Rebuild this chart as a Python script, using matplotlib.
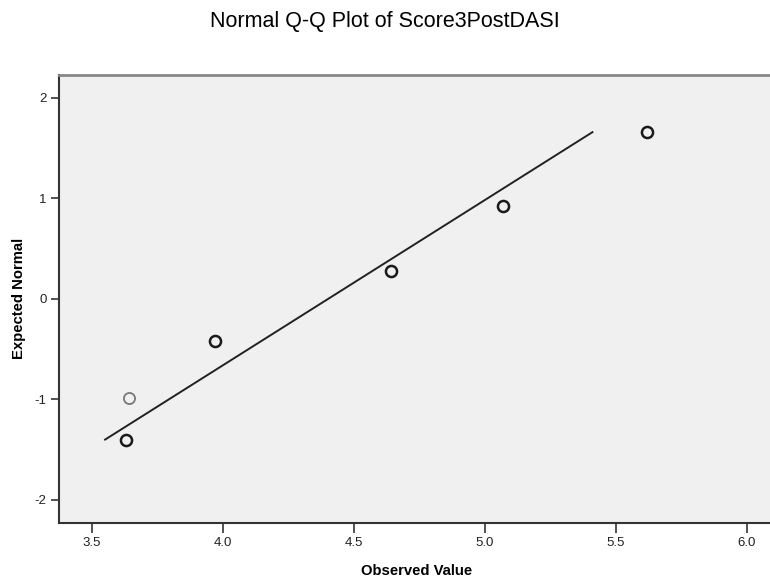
import matplotlib
matplotlib.use('Agg')
import matplotlib.pyplot as plt

# Observed scores and their expected normal quantiles
observed = [3.63, 3.64, 3.97, 4.64, 5.07, 5.62]
expected = [-1.40, -0.99, -0.42, 0.28, 0.92, 1.66]
# number of cases sharing each point (overlapping circles look darker)
cases = [2, 1, 2, 2, 2, 2]

# reference line endpoints (observed, expected)
line_x = [3.55, 5.41]
line_y = [-1.40, 1.66]

xticks = [3.5, 4.0, 4.5, 5.0, 5.5, 6.0]
yticks = [-2, -1, 0, 1, 2]

plt.rcParams['font.family'] = ['Liberation Sans', 'DejaVu Sans']
plt.rcParams['axes.unicode_minus'] = False

fig = plt.figure(figsize=(7.7, 5.85), dpi=100)
ax = fig.add_axes([0.0766, 0.106, 0.93, 0.766])
ax.set_facecolor('#f0f0f0')

ax.plot(line_x, line_y, color='#222222', lw=1.4, zorder=2)

for x, y, n in zip(observed, expected, cases):
    edge = '#1a1a1a' if n > 1 else '#777777'
    ax.plot(x, y, 'o', ms=8, mfc='none', mec=edge, mew=1.8 if n > 1 else 1.3, zorder=3)

ax.set_xlim(3.374, 6.107)
ax.set_ylim(-2.23, 2.23)
ax.set_xticks(xticks)
ax.set_xticklabels([f'{t:.1f}' for t in xticks])
ax.set_yticks(yticks)

for side in ['left', 'bottom']:
    ax.spines[side].set_color('#333333')
    ax.spines[side].set_linewidth(1.5)
ax.spines['top'].set_color('#888888')
ax.spines['top'].set_linewidth(2)
ax.spines['right'].set_visible(False)

ax.tick_params(width=1.2, color='#333333', labelcolor='#222222', labelsize=9.5, pad=3)
ax.tick_params(axis='x', length=7)
ax.tick_params(axis='y', length=6)

ax.set_xlabel('Observed Value', fontsize=10.7, fontweight='bold', labelpad=11)
ax.set_ylabel('Expected Normal', fontsize=10.7, fontweight='bold', labelpad=6)
fig.text(0.5, 1 - 21 / 585, 'Normal Q-Q Plot of Score3PostDASI', ha='center', va='center', fontsize=15.5)

plt.savefig('out.png', dpi=100)
